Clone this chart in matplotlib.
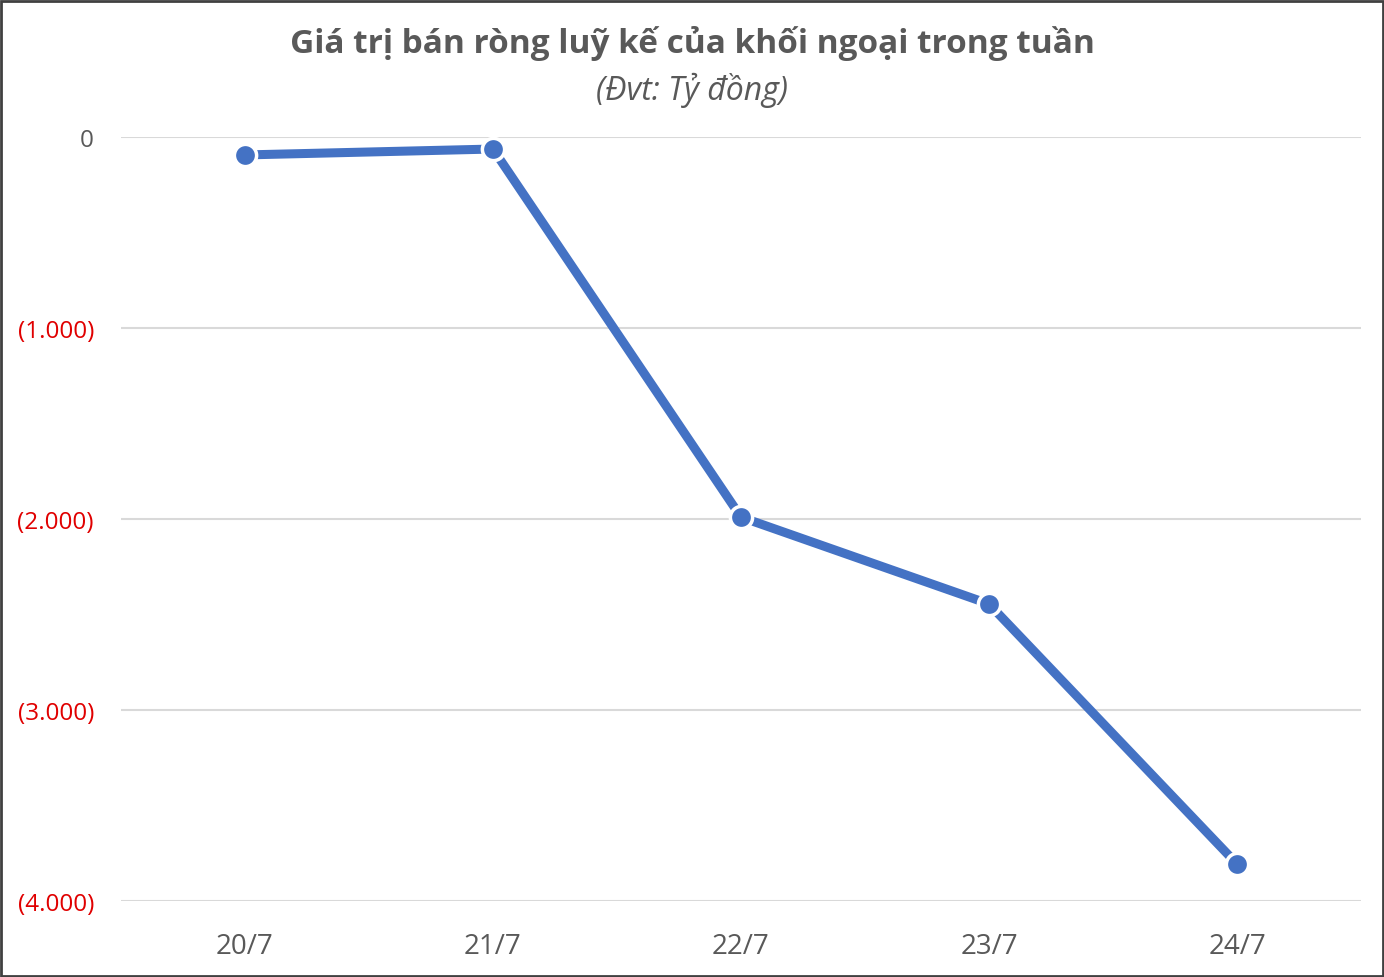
import matplotlib.pyplot as plt
from matplotlib.patches import Rectangle

plt.rcParams['font.family'] = ['Open Sans', 'DejaVu Sans']

days = ['20/7', '21/7', '22/7', '23/7', '24/7']
net_sell = [-94, -63, -1990, -2445, -3806]
y_ticks = [0, -1000, -2000, -3000, -4000]


def fmt(v):
    if v == 0:
        return '0'
    return '({:,})'.format(abs(v)).replace(',', '.')


fig = plt.figure(figsize=(13.84, 9.78), dpi=100)
ax = fig.add_axes([0.0874, 0.0777, 0.896, 0.7812])

x = range(len(days))
ax.plot(x, net_sell, color='#4472c4', linewidth=6.5, marker='o', markersize=16,
        markerfacecolor='#4472c4', markeredgecolor='white', markeredgewidth=2.5,
        clip_on=False, zorder=3)

ax.set_xlim(-0.5, len(days) - 0.5)
ax.set_ylim(-4000, 0)
ax.set_yticks(y_ticks)
ax.set_yticklabels([fmt(v) for v in y_ticks])
for lbl, v in zip(ax.get_yticklabels(), y_ticks):
    lbl.set_color('#595959' if v == 0 else '#e00000')
ax.set_xticks(list(x))
ax.set_xticklabels(days, color='#595959')
ax.tick_params(axis='y', length=0, pad=19.5, labelsize=17.5)
ax.tick_params(axis='x', length=0, pad=22, labelsize=20)
ax.grid(axis='y', color='#d9d9d9', linewidth=1.5)
ax.set_axisbelow(True)
for s in ax.spines.values():
    s.set_visible(False)

fig.text(0.5, 0.956, 'Giá trị bán ròng luỹ kế của khối ngoại trong tuần',
         ha='center', va='center', fontsize=24, fontweight='bold', color='#595959')
fig.text(0.5, 0.908, '(Đvt: Tỷ đồng)', ha='center', va='center',
         fontsize=23, style='italic', color='#595959')

fig.patches.append(Rectangle((0.001, 0.001), 0.998, 0.997, transform=fig.transFigure,
                             fill=False, edgecolor='#404040', linewidth=2))

fig.savefig('out.png', dpi=100)
